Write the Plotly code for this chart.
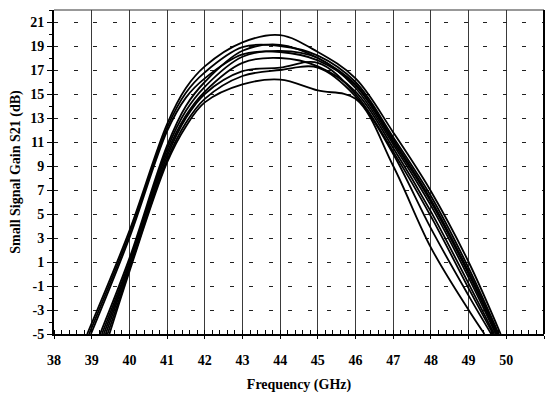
import plotly.graph_objects as go

# Frequency points (GHz) and gain (dB), one list per curve
freq_a1 = [38.88, 40, 41, 41.5, 42, 43, 44, 45, 46, 47, 48, 49, 49.85]
gain_a1 = [-5, 3.6, 12.5, 15.5, 17.3, 19.3, 19.9, 18.5, 16.3, 11.8, 6.9, 1.0, -5]
freq_a2 = [38.93, 40, 41, 41.5, 42, 43, 44, 45, 46, 47, 48, 49, 49.8]
gain_a2 = [-5, 3.3, 12.2, 15.1, 16.8, 18.9, 19.0, 18.2, 16.0, 11.4, 6.5, 0.5, -5]
freq_a3 = [38.98, 40, 41, 41.5, 42, 43, 44, 45, 46, 47, 48, 49, 49.75]
gain_a3 = [-5, 3.0, 11.9, 14.7, 16.3, 18.3, 18.5, 17.8, 15.7, 11.0, 6.0, 0.0, -5]
freq_b1 = [39.22, 40, 41, 41.5, 42, 43, 44, 45, 46, 47, 48, 49, 49.78]
gain_b1 = [-5, 1.3, 10.7, 14.0, 16.0, 18.6, 19.1, 18.0, 15.8, 11.2, 6.2, 0.2, -5]
freq_b2 = [39.27, 40, 41, 41.5, 42, 43, 44, 45, 46, 47, 48, 49, 49.72]
gain_b2 = [-5, 1.0, 10.4, 13.6, 15.6, 18.1, 18.6, 18.0, 15.5, 10.8, 5.7, -0.3, -5]
freq_b3 = [39.32, 40, 41, 41.5, 42, 43, 44, 45, 46, 47, 48, 49, 49.68]
gain_b3 = [-5, 0.8, 10.1, 13.2, 15.2, 17.6, 18.0, 17.3, 15.2, 10.5, 5.2, -0.8, -5]
freq_b4 = [39.37, 40, 41, 41.5, 42, 43, 44, 45, 46, 47, 48, 49, 49.65]
gain_b4 = [-5, 0.6, 9.8, 13.0, 15.0, 16.9, 17.2, 17.6, 15.0, 10.2, 4.8, -1.2, -5]
freq_b5 = [39.42, 40, 41, 41.5, 42, 43, 44, 45, 46, 47, 48, 49, 49.6]
gain_b5 = [-5, 0.4, 9.5, 12.6, 14.6, 16.5, 17.0, 17.2, 14.8, 10.0, 3.8, -1.8, -5]
freq_e = [39.47, 40, 41, 41.5, 42, 43, 44, 45, 46, 47, 48, 49, 49.42]
gain_e = [-5, 0.2, 9.3, 12.3, 14.3, 15.8, 16.2, 15.3, 14.6, 9.0, 2.2, -3.0, -5]

curves = [(freq_a1, gain_a1), (freq_a2, gain_a2), (freq_a3, gain_a3),
          (freq_b1, gain_b1), (freq_b2, gain_b2), (freq_b3, gain_b3),
          (freq_b4, gain_b4), (freq_b5, gain_b5), (freq_e, gain_e)]

x_ticks = list(range(38, 52))
y_ticks = list(range(-5, 22, 2))

fig = go.Figure()
for fx, gy in curves:
    fig.add_trace(go.Scatter(x=fx, y=gy, mode="lines",
                             line=dict(color="black", width=1.8, shape="spline", smoothing=1.0),
                             showlegend=False, hoverinfo="skip"))

font_fam = "Liberation Serif"
fig.update_layout(
    width=549, height=393,
    margin=dict(l=54, r=5, t=10, b=59),
    paper_bgcolor="white", plot_bgcolor="white",
    font=dict(family=font_fam, color="black", size=14, weight="bold"),
    showlegend=False,
)
fig.update_xaxes(
    range=[38, 51], tickvals=x_ticks, ticktext=[str(v) for v in x_ticks],
    automargin=False,
    showline=True, linecolor="black", linewidth=2,
    showgrid=True, gridcolor="#3a3a3a", gridwidth=1,
    ticks="outside", ticklen=3, tickcolor="black", tickwidth=1,
    ticklabelstandoff=9,
    minor=dict(dtick=0.2, ticks="inside", ticklen=4, tickcolor="black", showgrid=False),
    tickfont=dict(family=font_fam, size=14, color="black", weight="bold"),
    title=dict(text="Frequency (GHz)", font=dict(family=font_fam, size=14, color="black", weight="bold"), standoff=16),
    zeroline=False,
)
fig.update_yaxes(
    range=[-5, 22], tickvals=y_ticks, ticktext=[str(v) for v in y_ticks],
    automargin=False,
    showline=True, linecolor="black", linewidth=2,
    showgrid=True, gridcolor="#222222", gridwidth=1, griddash="4px,15.5px",
    ticks="outside", ticklen=5, tickcolor="black", tickwidth=1,
    minor=dict(dtick=1, tick0=-5, ticks="outside", ticklen=3, tickcolor="black", showgrid=False),
    tickfont=dict(family=font_fam, size=14, color="black", weight="bold"),
    title=dict(text="Small Signal Gain S21 (dB)", font=dict(family=font_fam, size=14, color="black", weight="bold"), standoff=6),
    zeroline=False,
)
# frame: thin top border, thick right border
fig.add_shape(type="line", xref="paper", yref="paper", x0=0, x1=1, y0=1, y1=1,
              line=dict(color="#333333", width=1), layer="above")
fig.add_shape(type="line", xref="paper", yref="paper", x0=1, x1=1, y0=0, y1=1,
              line=dict(color="black", width=2), layer="above")

fig.write_html("out.html")
